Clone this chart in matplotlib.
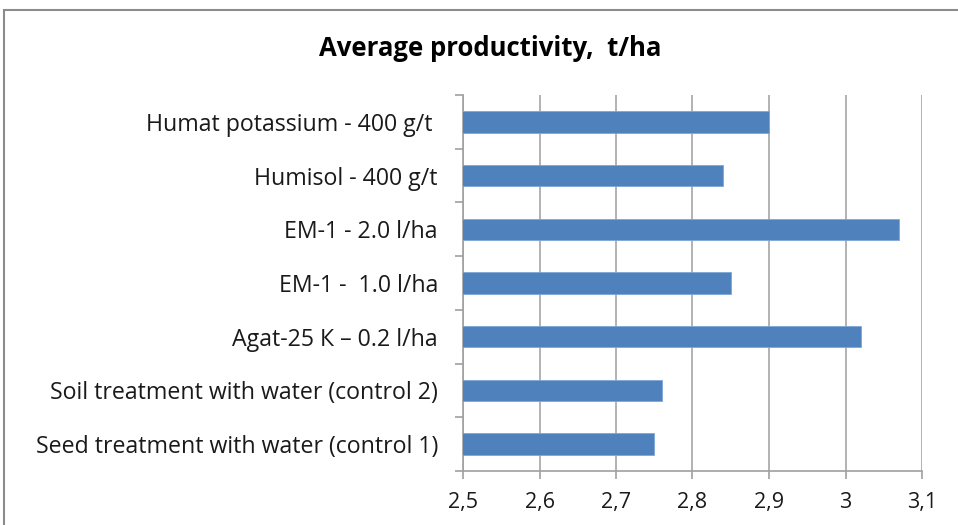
import matplotlib.pyplot as plt
from matplotlib.patches import Rectangle
from matplotlib.ticker import FuncFormatter, FixedLocator

# data (bottom to top)
categories = [
    "Seed treatment with water (control 1)",
    "Soil treatment with water (control 2)",
    "Agat-25 К – 0.2 l/ha",
    "EM-1 -  1.0 l/ha",
    "EM-1 - 2.0 l/ha",
    "Humisol - 400 g/t",
    "Humat potassium - 400 g/t ",
]
values = [2.75, 2.76, 3.02, 2.85, 3.07, 2.84, 2.90]
xticks = [2.5, 2.6, 2.7, 2.8, 2.9, 3.0, 3.1]

plt.rcParams['font.family'] = ['Open Sans', 'DejaVu Sans']

fig = plt.figure(figsize=(9.58, 5.25), dpi=100)
ax = fig.add_axes([463 / 958, 1 - 471 / 525, (922 - 463) / 958, (471 - 95) / 525])

ypos = list(range(len(categories)))
ax.barh(ypos, values, height=0.4, left=0, color='#4f81bd', edgecolor='#7ea6d8', linewidth=0.6, zorder=3)

ax.set_xlim(2.5, 3.1)
ax.set_ylim(-0.5, len(categories) - 0.5)
ax.set_xticks(xticks)
ax.xaxis.set_major_formatter(FuncFormatter(lambda v, p: ('%g' % round(v, 2)).replace('.', ',')))
ax.set_yticks(ypos)
ax.set_yticklabels(categories, fontsize=16.7, color='#1a1a1a')
ax.tick_params(axis='y', length=0, pad=18)
ax.yaxis.set_minor_locator(FixedLocator([i - 0.5 for i in range(len(categories) + 1)]))
ax.tick_params(axis='y', which='minor', length=6, color='#a0a0a0', width=1.2)
ax.tick_params(axis='x', length=6, color='#a0a0a0', width=1.2, labelsize=15.5, labelcolor='#1a1a1a', pad=9)

ax.grid(axis='x', color='#a6a6a6', linewidth=1.2, zorder=0)
for s in ['top', 'right']:
    ax.spines[s].set_visible(False)
for s in ['left', 'bottom']:
    ax.spines[s].set_color('#a0a0a0')
    ax.spines[s].set_linewidth(1.2)

fig.text(490 / 958, 1 - 48 / 525, "Average productivity,  t/ha", ha='center', va='center',
         fontsize=18.5, fontweight='bold')

# outer chart frame
fig.patches.append(Rectangle((4 / 958, -0.1), 1.2, 1 - 10 / 525 + 0.1, transform=fig.transFigure,
                             fill=False, edgecolor='#8c8c8c', linewidth=1.5, clip_on=False))

fig.savefig('out.png', dpi=100)
